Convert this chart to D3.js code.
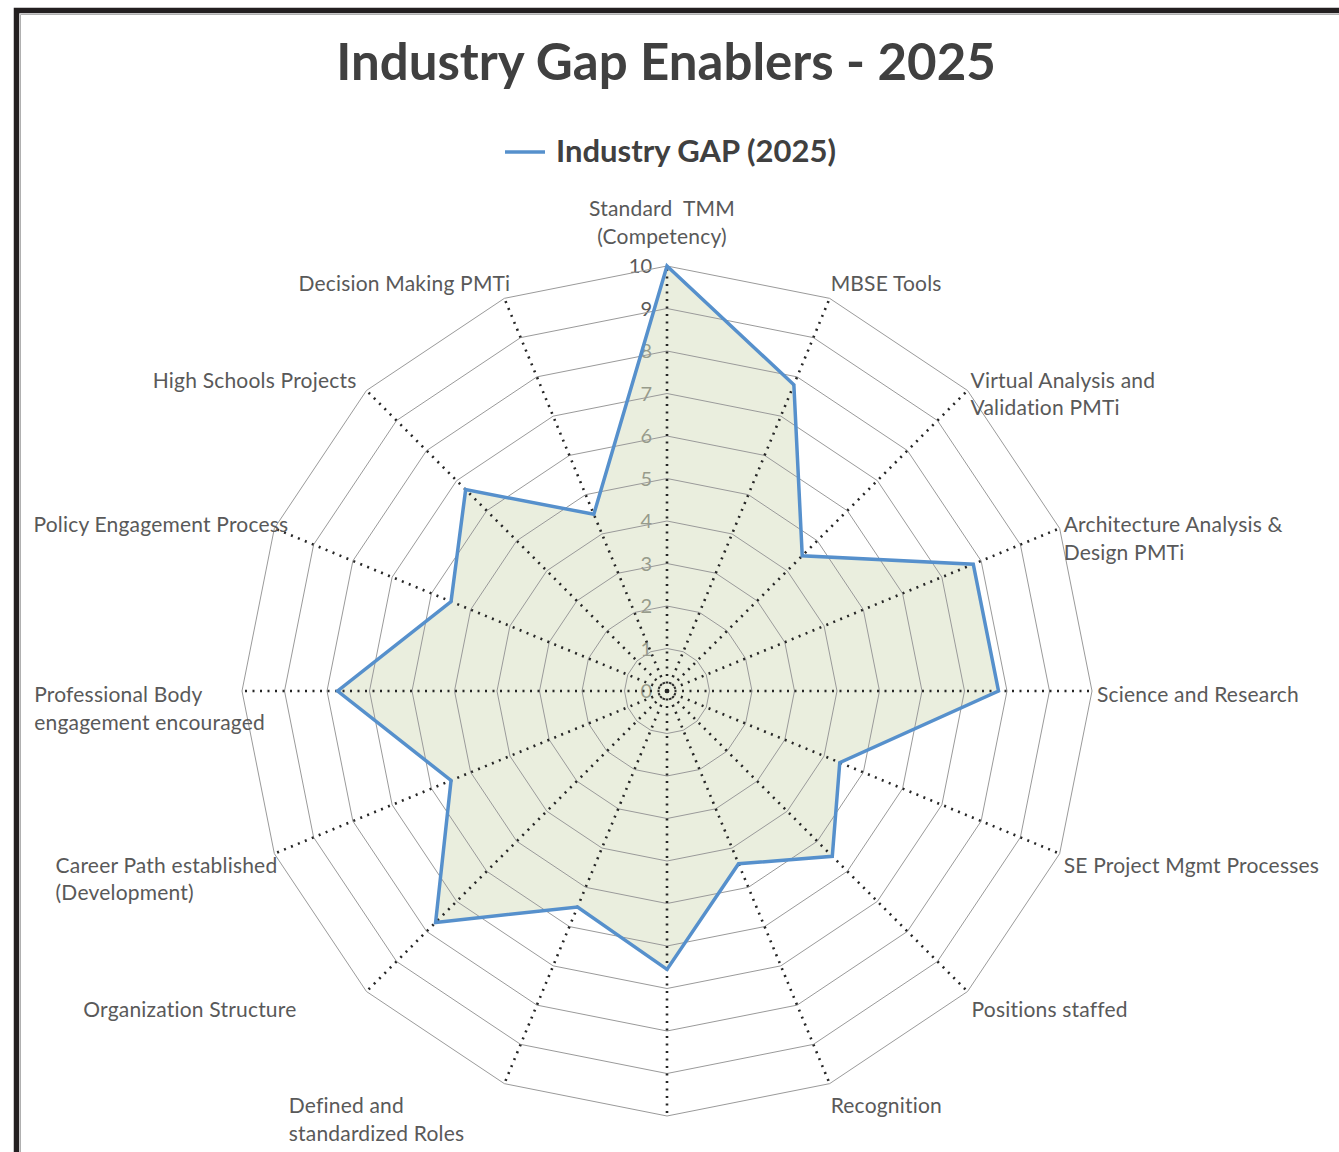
<!DOCTYPE html>
<html>
<head>
<meta charset="utf-8">
<script src="https://cdn.jsdelivr.net/npm/d3@7"></script>
<style>
  body { margin: 0; background: #fff; }
  text { font-family: Lato, "Open Sans", sans-serif; }
  .cat { white-space: pre; }
</style>
</head>
<body>
<div id="chart"></div>
<script>
// chart data
const chartTitle = "Industry Gap Enablers - 2025";
const seriesName = "Industry GAP (2025)";
const categories = [
    ["Standard  TMM", "(Competency)"],
    ["MBSE Tools"],
    ["Virtual Analysis and", "Validation PMTi"],
    ["Architecture Analysis &", "Design PMTi"],
    ["Science and Research"],
    ["SE Project Mgmt Processes"],
    ["Positions staffed"],
    ["Recognition"],
    [""],                       // bottom label falls outside the picture
    ["Defined and", "standardized Roles"],
    ["Organization Structure"],
    ["Career Path established", "(Development)"],
    ["Professional Body", "engagement encouraged"],
    ["Policy Engagement Process"],
    ["High Schools Projects"],
    ["Decision Making PMTi"]
];
const gapValues = [10, 7.8, 4.5, 7.8, 7.8, 4.4, 5.5, 4.4, 6.55, 5.5, 7.7, 5.5, 7.75, 5.5, 6.7, 4.5];
const scaleTicks = [0, 1, 2, 3, 4, 5, 6, 7, 8, 9, 10];

// label nudges (Excel puts some labels off the axis end)
const labelDx = [-5, 1, 3, 4, 5, 4, 4, 1, 0, -40, -70, 3, 23, 14, -10, 6];

//dimensions
const width = 1339, height = 1152;
const cx = 667, cy = 691;
const radius = 425;
const n = categories.length;
const step = 2 * Math.PI / n;

const svg = d3.select("#chart")
    .append("svg")
    .attr("width", width)
    .attr("height", height);

// frame
svg.append("rect")
    .attr("x", 16.5).attr("y", 10.5)
    .attr("width", 1400).attr("height", 1300)
    .attr("fill", "#fff")
    .attr("stroke", "#231f20")
    .attr("stroke-width", 5.5);
svg.append("path")
    .attr("d", "M20.5,1152V14.5H1339")
    .attr("fill", "none")
    .attr("stroke", "#b0b0b0")
    .attr("stroke-width", 1);

// title
svg.append("text")
    .attr("x", 666).attr("y", 80)
    .attr("text-anchor", "middle")
    .attr("font-size", 51)
    .attr("font-weight", 700)
    .attr("fill", "#404040")
    .text(chartTitle);

// legend
const legend = svg.append("g");
legend.append("line")
    .attr("x1", 505).attr("x2", 545)
    .attr("y1", 152).attr("y2", 152)
    .attr("stroke", "#5690cc")
    .attr("stroke-width", 3.5);
legend.append("text")
    .attr("x", 556).attr("y", 162)
    .attr("font-size", 31)
    .attr("font-weight", 700)
    .attr("fill", "#404040")
    .text(seriesName);

//scale
const r = d3.scaleLinear().domain([0, 10]).range([0, radius]);

const g = svg.append("g")
    .attr("transform", `translate(${cx},${cy})`);

// value labels on the top axis (under the fill)
g.selectAll(".tick-label")
    .data(scaleTicks)
    .enter().append("text")
    .attr("class", "tick-label")
    .attr("x", -15)
    .attr("y", d => -r(d))
    .attr("dy", "0.35em")
    .attr("text-anchor", "end")
    .attr("font-size", 20)
    .attr("fill", "#595959")
    .text(d => d);

// filled area
const radial = d3.lineRadial()
    .angle((d, i) => i * step)
    .radius(d => r(d))
    .curve(d3.curveLinearClosed);

g.append("path")
    .datum(gapValues)
    .attr("d", radial)
    .attr("fill", "rgb(213,221,189)")
    .attr("fill-opacity", 0.5);

// grid rings
g.selectAll(".ring")
    .data(scaleTicks.slice(1))
    .enter().append("path")
    .attr("class", "ring")
    .attr("d", lvl => radial(d3.range(n).map(() => lvl)))
    .attr("fill", "none")
    .attr("stroke", "#9a9a9a")
    .attr("stroke-width", 1);

// dotted axes
g.selectAll(".axis")
    .data(d3.range(n))
    .enter().append("line")
    .attr("class", "axis")
    .attr("x1", 0).attr("y1", 0)
    .attr("x2", i => r(10) * Math.sin(i * step))
    .attr("y2", i => -r(10) * Math.cos(i * step))
    .attr("stroke", "#262626")
    .attr("stroke-width", 2.6)
    .attr("stroke-dasharray", "2,5.5");

// series line
g.append("path")
    .datum(gapValues)
    .attr("d", radial)
    .attr("fill", "none")
    .attr("stroke", "#5690cc")
    .attr("stroke-width", 3.5)
    .attr("stroke-linejoin", "miter");

// category labels
const lineH = 27.5;
g.selectAll(".cat")
    .data(categories)
    .enter().append("text")
    .attr("class", "cat")
    .attr("font-size", 21)
    .attr("letter-spacing", 0.2)
    .attr("fill", "#595959")
    .each(function(lines, i) {
        const a = i * step;
        const ex = r(10) * Math.sin(a), ey = -r(10) * Math.cos(a);
        let anchor, y0;
        if (i === 0 || i === n / 2) {
            anchor = "middle";
            y0 = i === 0 ? ey - 57 : ey + 25;
        } else {
            anchor = a < Math.PI ? "start" : "end";
            y0 = ey + 4 - 20 * Math.cos(a);
        }
        const x = ex + labelDx[i];
        const t = d3.select(this).attr("text-anchor", anchor === "end" ? "start" : anchor);
        lines.forEach((s, k) => {
            t.append("tspan").attr("x", x).attr("y", y0 + k * lineH).attr("dy", "0.35em").text(s);
        });
        if (anchor === "end") {
            // block right edge at the anchor, lines left-aligned inside it
            const w = this.getBBox().width;
            t.selectAll("tspan").attr("x", x - w);
        }
    });
</script>
</body>
</html>
